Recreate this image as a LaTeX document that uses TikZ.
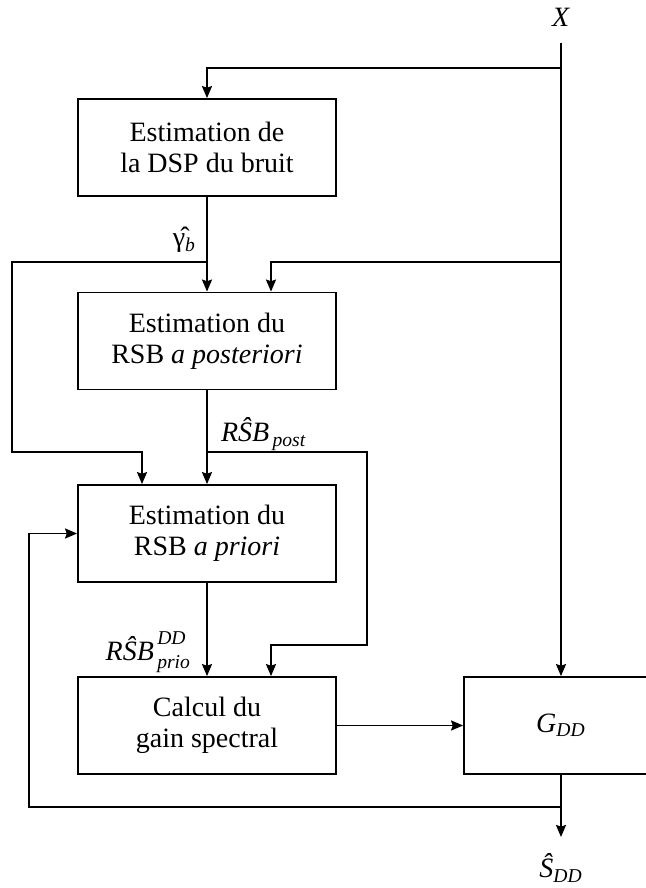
\documentclass[tikz,border=0pt]{standalone}
\usepackage{amsmath}
\usepackage{fontspec}
\setmainfont{Liberation Serif}
\usetikzlibrary{arrows.meta}
\tikzset{%
    every node/.style={font=\fontsize{14}{15.5}\selectfont, align=center},
    block/.style={draw, line width=0.9pt, minimum width=129pt,
        minimum height=48.5pt, inner sep=0pt},
    wire/.style={line width=0.9pt},
    arr/.style={wire, -{Stealth[length=6pt, width=5pt, inset=0.8pt]}}
}

\begin{document}
\begin{tikzpicture}[x=0.5pt, y=-0.5pt]
  \useasboundingbox (0,0) rectangle (645,888);

  \node (dsp) [block] at (207,147.5) {Estimation de\\la DSP du bruit};
  \node (post) [block] at (207,341) {Estimation du\\RSB \textit{a posteriori}};
  \node (prio) [block] at (207,533.5) {Estimation du\\RSB \textit{a priori}};
  \node (gain) [block] at (207,725.5) {Calcul du\\gain spectral};
  \node (gdd) [block, minimum width=97pt] at (561,725.5)
    {\textit{G}\textsubscript{\textit{DD}}};

  \node (x) [inner sep=0pt] at (561,17) {\textit{X}};
  \node (s) at (561,868) {$\textit{\^{S}}_{\textit{DD}}$};
  \coordinate (out) at (561,837);

  \node (gb) [anchor=east] at (203,240) {\^{γ}\textsubscript{\textit{b}}};
  \node (rpost) [anchor=west] at (214,434) {$\textit{R\^{S}B}_{\,\textit{post}}$};
  \node (rprio) [anchor=east] at (198,652) {$\textit{R\^{S}B}^{\,\textit{DD}}_{\,\textit{prio}}$};

  \coordinate (j1) at (561,68);
  \coordinate (j2) at (561,262);
  \coordinate (j3) at (207,262);
  \coordinate (j4) at (207,452);
  \coordinate (j5) at (561,807);

  \draw [wire] ([yshift=-8pt]x.south) -- (j1);
  \draw [arr] (j1) -- (j2) -- (gdd.north);
  \draw [arr] (j1) -| (dsp.north);
  \draw [arr] (dsp) -- (post);
  \draw [arr] (j2) -| (271,262) -- (post.north -| 271,0);
  \draw [arr] (j3) -- (12,262) -- (12,452) -| (prio.north -| 142,0);
  \draw [arr] (post) -- (prio);
  \draw [arr] (j4) -- (367,452) -- (367,645) -| (gain.north -| 271,0);
  \draw [arr] (prio) -- (gain);
  \draw [arr] (gain) -- (gdd);
  \draw [arr] (gdd) -- (out);
  \draw [arr] (j5) -- (29,807) |- (prio.west);
\end{tikzpicture}
\end{document}
